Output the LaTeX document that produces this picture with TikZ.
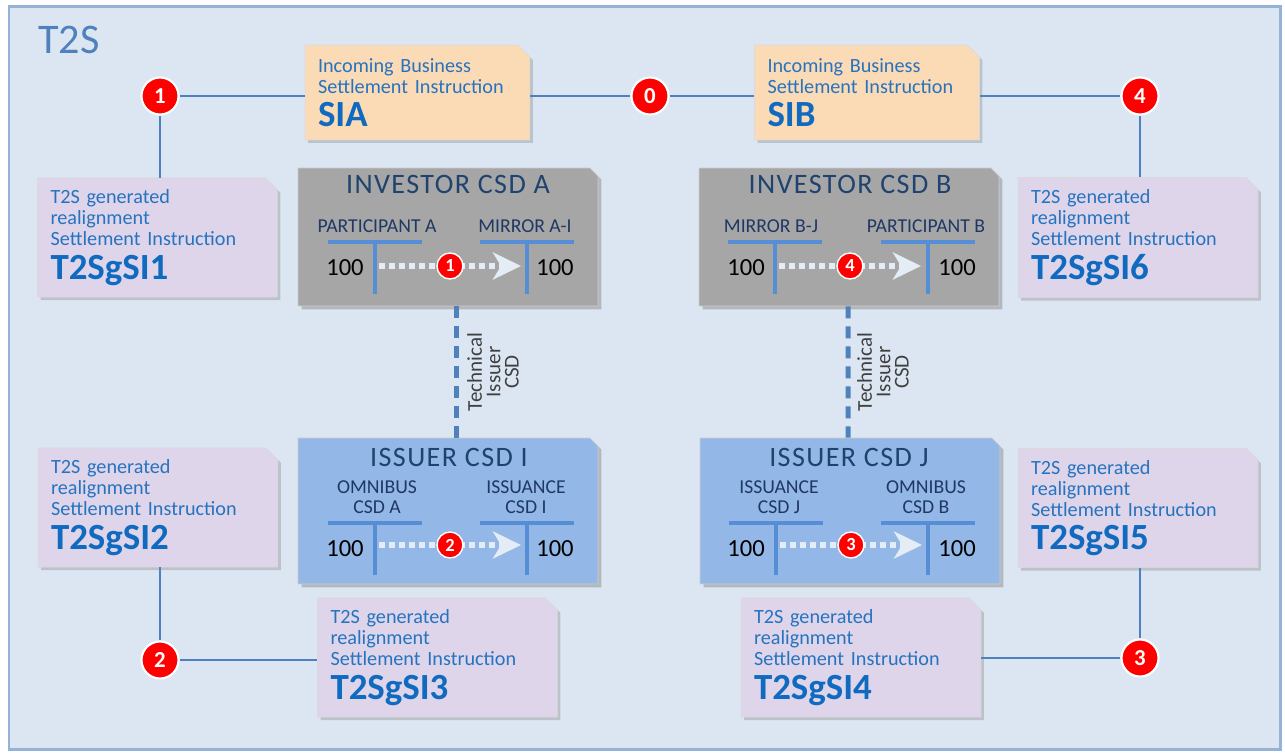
\documentclass[tikz,border=0pt]{standalone}
\usepackage{fontspec}
\setmainfont{Carlito}
\usetikzlibrary{arrows.meta,positioning,shapes.misc,shadows}

\definecolor{bgblue}{HTML}{DCE6F2}
\definecolor{frameblue}{HTML}{95B3D7}
\definecolor{linkblue}{HTML}{4F81BD}
\definecolor{peach}{HTML}{FBDAB6}
\definecolor{lavender}{HTML}{DED5EA}
\definecolor{csdgray}{HTML}{A6A6A6}
\definecolor{issblue}{HTML}{93B7E6}
\definecolor{tbarblue}{HTML}{558ED5}
\definecolor{textblue}{HTML}{2673C0}
\definecolor{nameblue}{HTML}{0F6AC0}
\definecolor{titleblue}{HTML}{1F426E}
\definecolor{acctnavy}{HTML}{1F3864}
\definecolor{techgray}{HTML}{404040}
\definecolor{numred}{HTML}{FF0000}
\definecolor{flowwhite}{HTML}{E4ECF6}

\begin{document}
\begin{tikzpicture}[x=0.02cm,y=-0.02cm,>=Stealth,
  frame/.style={fill=bgblue,draw=frameblue,line width=0.06cm},
  sibox/.style={chamfered rectangle,chamfered rectangle corners=north east,
    chamfered rectangle xsep=0.12cm,chamfered rectangle ysep=0.12cm,
    draw=white!70!gray,line width=0.3pt,align=left,text=textblue,
    font=\fontsize{11.5}{12}\selectfont,
    drop shadow={opacity=0.35,shadow xshift=0.06cm,shadow yshift=-0.06cm}},
  siin/.style={sibox,fill=peach,minimum width=4.5cm,minimum height=1.9cm,text width=3.98cm},
  gsi/.style={sibox,fill=lavender,minimum width=4.8cm,minimum height=2.18cm,text width=4.28cm},
  csd/.style={chamfered rectangle,chamfered rectangle corners=north east,
    chamfered rectangle xsep=0.08cm,chamfered rectangle ysep=0.08cm,
    minimum width=6cm,draw=white!60!gray,line width=0.4pt,
    drop shadow={opacity=0.45,shadow xshift=0.07cm,shadow yshift=-0.07cm}},
  investor/.style={csd,fill=csdgray,minimum height=2.76cm},
  issuer/.style={csd,fill=issblue,minimum height=2.92cm},
  csdtitle/.style={text=titleblue,font=\fontsize{16}{16}\selectfont\addfontfeature{LetterSpace=5}},
  acct/.style={text=acctnavy,align=center,font=\fontsize{11.2}{11.5}\selectfont},
  amount/.style={font=\fontsize{14}{14}\selectfont},
  numball/.style={circle,solid,fill=numred,draw=white,line width=1.2pt,text=white,
    inner sep=0pt,minimum size=0.74cm,font=\fontsize{13}{13}\selectfont\bfseries},
  numsmall/.style={numball,minimum size=0.52cm,line width=0.8pt,
    font=\fontsize{10.5}{10.5}\selectfont\bfseries},
  link/.style={draw=linkblue,line width=0.03cm},
  techlink/.style={draw=linkblue,line width=0.1cm,dash pattern=on 0.24cm off 0.16cm},
  techlabel/.style={rotate=90,align=center,text=techgray,font=\fontsize{12}{10.5}\selectfont},
  tbar/.style={draw=tbarblue,line width=0.09cm},
  flow/.style={draw=flowwhite,line width=0.12cm,dash pattern=on 0.12cm off 0.08cm,
    -{Stealth[length=0.56cm,width=0.54cm,inset=0.16cm,fill=flowwhite]}}]

\useasboundingbox (0,0) rectangle (1285,754);

% =====================
% Livelli verticali
% =====================
\def\InvY{242}
\def\IssY{523}
\def\NameFont{\fontsize{21}{21}\selectfont\bfseries\color{nameblue}}

% =====================
% Cornice T2S
% =====================
\draw[frame] (9,6) rectangle (1280,749);
\node[anchor=west,text=linkblue,font=\fontsize{24}{24}\selectfont] (t2s) at (32,40) {T2S};

% =====================
% Istruzioni in ingresso
% =====================
\node[siin] (sia) at (417.5,92.5) {Incoming Business\\Settlement Instruction\\[4pt]{\NameFont SIA}};
\node[siin] (sib) at (867,92.5) {Incoming Business\\Settlement Instruction\\[4pt]{\NameFont SIB}};

% =====================
% Istruzioni generate da T2S
% =====================
\node[gsi] (g1) at (157.5,237.5) {T2S generated\\realignment\\Settlement Instruction\\[4pt]{\NameFont T2SgSI1}};
\node[gsi] (g6) at (1138,237.5) {T2S generated\\realignment\\Settlement Instruction\\[4pt]{\NameFont T2SgSI6}};
\node[gsi] (g2) at (158,507.5) {T2S generated\\realignment\\Settlement Instruction\\[4pt]{\NameFont T2SgSI2}};
\node[gsi] (g5) at (1138,508) {T2S generated\\realignment\\Settlement Instruction\\[4pt]{\NameFont T2SgSI5}};
\node[gsi] (g3) at (437.5,657.5) {T2S generated\\realignment\\Settlement Instruction\\[4pt]{\NameFont T2SgSI3}};
\node[gsi] (g4) at (861,657.5) {T2S generated\\realignment\\Settlement Instruction\\[4pt]{\NameFont T2SgSI4}};

% =====================
% Passi numerati
% =====================
\node[numball] (c0) at (650,96) {0};
\node[numball] (c1) at (160,96) {1};
\node[numball] (c4) at (1140,96) {4};
\node[numball] (c2) at (160,660) {2};
\node[numball] (c3) at (1140,658) {3};

\draw[link] (c1) -- (c1 -| sia.west);
\draw[link] (c1) -- (c1 |- g1.north);
\draw[link] (sia.east |- c0) -- (c0) -- (sib.west |- c0);
\draw[link] (sib.east |- c4) -- (c4) -- (c4 |- g6.north);
\draw[link] (g2.south -| c2) -- (c2) -- (c2 -| g3.west);
\draw[link] (g5.south -| c3) -- (c3) -- (c3 -| g4.east);

% =====================
% CSD
% =====================
\node[investor] (invA) at (448,237) {};
\node[investor] (invB) at (849,237) {};
\node[issuer] (issI) at (448,511) {};
\node[issuer] (issJ) at (850,511) {};

\node[csdtitle] (tInvA) at (448,184) {INVESTOR CSD A};
\node[csdtitle] (tInvB) at (850,184) {INVESTOR CSD B};
\node[csdtitle] (tIssI) at (449,457) {ISSUER CSD I};
\node[csdtitle] (tIssJ) at (849,457) {ISSUER CSD J};

% collegamento emittente tecnico
\draw[techlink] ([xshift=0.16cm]invA.south) -- ([xshift=0.16cm]issI.north);
\draw[techlink] ([xshift=-0.02cm]invB.south) -- ([xshift=-0.04cm]issJ.north);
\node[techlabel] (tecA) at (493,372) {Technical\\Issuer\\CSD};
\node[techlabel] (tecB) at (883,372) {Technical\\Issuer\\CSD};

% =====================
% Conti a T
% =====================
\foreach \tx/\ty in {375/\InvY,527/\InvY,775/\InvY,928/\InvY,375/\IssY,527/\IssY,776/\IssY,928/\IssY}{
  \draw[tbar] (\tx-47,\ty) -- (\tx+47,\ty);
  \draw[tbar] (\tx,\ty) -- (\tx,\ty+52);
}

\node[acct,anchor=south] (lpa) at (377,\InvY-3) {PARTICIPANT A};
\node[acct,anchor=south] (lma) at (525,\InvY-3) {MIRROR A-I};
\node[acct,anchor=south] (lmb) at (771,\InvY-3) {MIRROR B-J};
\node[acct,anchor=south] (lpb) at (926,\InvY-3) {PARTICIPANT B};
\node[acct,anchor=south] (loa) at (377,\IssY-3) {OMNIBUS\\CSD A};
\node[acct,anchor=south] (lii) at (526,\IssY-3) {ISSUANCE\\CSD I};
\node[acct,anchor=south] (lij) at (779,\IssY-3) {ISSUANCE\\CSD J};
\node[acct,anchor=south] (lob) at (926,\IssY-3) {OMNIBUS\\CSD B};

\node[amount] (ma1) at (345,268) {100};
\node[amount] (ma2) at (555,268) {100};
\node[amount] (mb1) at (746,268) {100};
\node[amount] (mb2) at (957,268) {100};
\node[amount] (mi1) at (345,549) {100};
\node[amount] (mi2) at (555,549) {100};
\node[amount] (mj1) at (746,549) {100};
\node[amount] (mj2) at (957,549) {100};

% =====================
% Movimenti
% =====================
\coordinate (fa1) at (379,266);  \coordinate (fa2) at (521,266);
\coordinate (fb1) at (779,266);  \coordinate (fb2) at (921,266);
\coordinate (fi1) at (379,545);  \coordinate (fi2) at (521,545);
\coordinate (fj1) at (780,545);  \coordinate (fj2) at (922,545);

\draw[flow] (fa1) -- node[numsmall] (s1) {1} (fa2);
\draw[flow] (fb1) -- node[numsmall] (s4) {4} (fb2);
\draw[flow] (fi1) -- node[numsmall] (s2) {2} (fi2);
\draw[flow] (fj1) -- node[numsmall] (s3) {3} (fj2);

\end{tikzpicture}
\end{document}
